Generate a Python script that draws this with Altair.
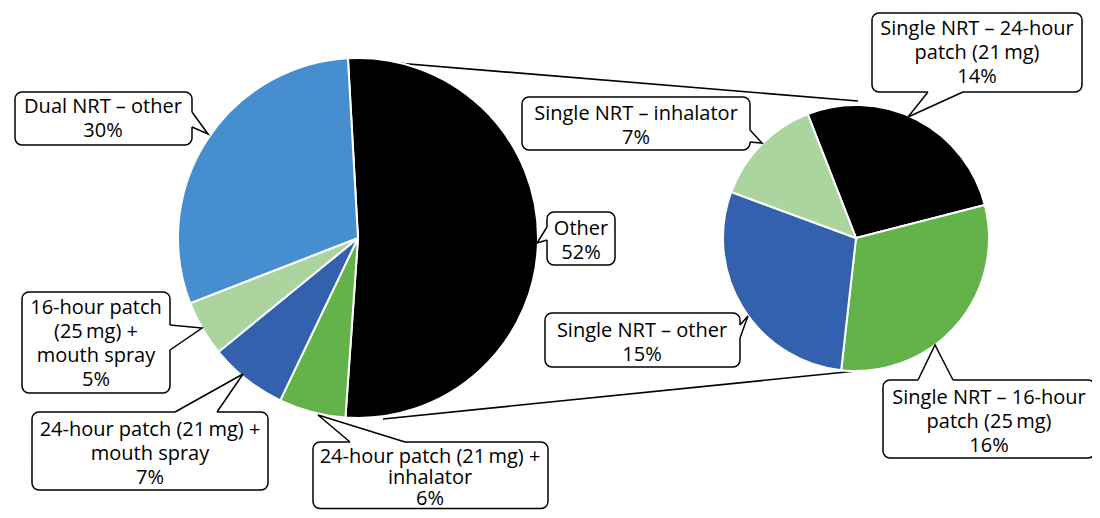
import math
import altair as alt
import pandas as pd

# ---------------- data ----------------
main_categories = [
    "Other",
    "24-hour patch (21\u2009mg) +\ninhalator",
    "24-hour patch (21\u2009mg) +\nmouth spray",
    "16-hour patch\n(25\u2009mg) +\nmouth spray",
    "Dual NRT \u2013 other",
]
main_values = [52, 6, 7, 5, 30]
main_colors = ["#000000", "#63b24a", "#3461ad", "#acd49e", "#468ecd"]

sub_categories = [
    "Single NRT \u2013 24-hour\npatch (21\u2009mg)",
    "Single NRT \u2013 16-hour\npatch (25\u2009mg)",
    "Single NRT \u2013 other",
    "Single NRT \u2013 inhalator",
]
sub_values = [14, 16, 15, 7]
sub_colors = ["#000000", "#63b24a", "#3461ad", "#acd49e"]

# ---------------- layout (image pixel coordinates) ----------------
OFF = 8
W, H = 1100 - 2 * OFF, 518 - 2 * OFF
MAIN_C, MAIN_R, MAIN_START = (358, 238), 180, -3.2
SUB_C, SUB_R, SUB_START = (856, 238), 133, -21.3
connectors = [(348, 59, 858, 101), (383, 419, 856, 371)]

# box (x1, y1, x2, y2), first text line position, line height, pointer base points, tip
callout_layout = {
    "Dual NRT \u2013 other": ((15, 92, 192, 145), (103, 107), 24, ((192, 112), (192, 127)), (208, 134)),
    "16-hour patch\n(25\u2009mg) +\nmouth spray": ((22, 292, 170, 393), (96, 308), 24, ((170, 325), (170, 350)), (202, 328)),
    "24-hour patch (21\u2009mg) +\nmouth spray": ((32, 412, 268, 490), (150, 430), 24, ((175, 412), (217, 412)), (243, 374)),
    "24-hour patch (21\u2009mg) +\ninhalator": ((313, 442, 548, 508.5), (430, 457), 21, ((350, 442), (405, 442)), (318, 415)),
    "Other": ((547, 212, 615, 265), (581, 229), 24, ((547, 227), (547, 240)), (537, 243)),
    "Single NRT \u2013 inhalator": ((522, 97, 750, 150), (636, 114), 24, ((750, 130), (750, 142)), (762, 143)),
    "Single NRT \u2013 24-hour\npatch (21\u2009mg)": ((872, 13, 1082, 92), (977, 29), 24, ((928, 92), (963, 92)), (908, 117)),
    "Single NRT \u2013 other": ((545, 313, 740, 367), (642, 331), 24, ((740, 325), (740, 338)), (748, 316)),
    "Single NRT \u2013 16-hour\npatch (25\u2009mg)": ((883, 380, 1095, 458), (989, 398), 24, ((918, 380), (953, 380)), (935, 345)),
}

FONT = "Open Sans"
FS = 20

# ---------------- tables ----------------
main_df = pd.DataFrame({"cat": main_categories, "value": main_values,
                        "color": main_colors, "idx": range(len(main_values))})
sub_df = pd.DataFrame({"cat": sub_categories, "value": sub_values,
                       "color": sub_colors, "idx": range(len(sub_values))})

values_by_cat = dict(zip(main_categories + sub_categories, main_values + sub_values))
rows, prow, cover = [], [], []
for i, (cat, (box, tc, lh, base, tip)) in enumerate(callout_layout.items()):
    rows.append({"k": i, "x1": box[0], "y1": box[1], "x2": box[2], "y2": box[3],
                 "tx": tc[0], "ty": tc[1], "lh": lh, "label": f"{cat}\n{values_by_cat[cat]}%"})
    for o, (px, py) in enumerate([base[0], tip, base[1]]):
        prow.append({"k": i, "o": o, "px": px, "py": py})
    cover.append({"k": i, "cx1": base[0][0], "cy1": base[0][1], "cx2": base[1][0], "cy2": base[1][1]})
call_df = pd.DataFrame(rows)
ptr_df = pd.DataFrame(prow)
cover_df = pd.DataFrame(cover)
conn_df = pd.DataFrame(connectors, columns=["ax", "ay", "bx", "by"])

xs = alt.Scale(domain=[OFF, 1100 - OFF], range=[0, W])
ys = alt.Scale(domain=[OFF, 518 - OFF], range=[0, H])


def X(f):
    return alt.X(f, type="quantitative", scale=xs, axis=None)


def Y(f):
    return alt.Y(f, type="quantitative", scale=ys, axis=None)


conn = alt.Chart(conn_df).mark_rule(color="black", strokeWidth=1.6).encode(
    x=X("ax"), y=Y("ay"), x2="bx", y2="by")


def pie(df, c, r, start):
    a0 = math.radians(start)
    return alt.Chart(df).mark_arc(radius=r, stroke="white", strokeWidth=2).encode(
        theta=alt.Theta("value:Q", stack=True, scale=alt.Scale(range=[a0, a0 + 2 * math.pi])),
        order=alt.Order("idx:O"),
        color=alt.Color("color:N", scale=None),
        x=alt.value(c[0] - OFF), y=alt.value(c[1] - OFF),
    )


main_pie = pie(main_df, MAIN_C, MAIN_R, MAIN_START)
sub_pie = pie(sub_df, SUB_C, SUB_R, SUB_START)

boxes = alt.Chart(call_df).mark_rect(fill="white", stroke="black", strokeWidth=1.5,
                                     cornerRadius=7).encode(
    x=X("x1"), x2="x2", y=Y("y1"), y2="y2")
covers = alt.Chart(cover_df).mark_rule(color="white", strokeWidth=3.5).encode(
    x=X("cx1"), y=Y("cy1"), x2="cx2", y2="cy2")
pointers = alt.Chart(ptr_df).mark_line(color="black", strokeWidth=1.5, strokeJoin="miter").encode(
    x=X("px"), y=Y("py"), detail="k:N", order="o:Q")

text_layers = []
for lh in sorted(call_df["lh"].unique()):
    text_layers.append(
        alt.Chart(call_df[call_df["lh"] == lh]).mark_text(
            font=FONT, fontSize=FS, lineBreak="\n", lineHeight=float(lh),
            align="center", baseline="middle", color="black").encode(
            x=X("tx"), y=Y("ty"), text="label:N"))

chart = alt.layer(conn, main_pie, sub_pie, boxes, covers, pointers, *text_layers).resolve_scale(
    theta="independent").properties(width=W, height=H, padding=0, autosize="none",
                                    background="white").configure_view(stroke=None)

chart.save("out.html", embed_options={"renderer": "svg", "actions": False})
